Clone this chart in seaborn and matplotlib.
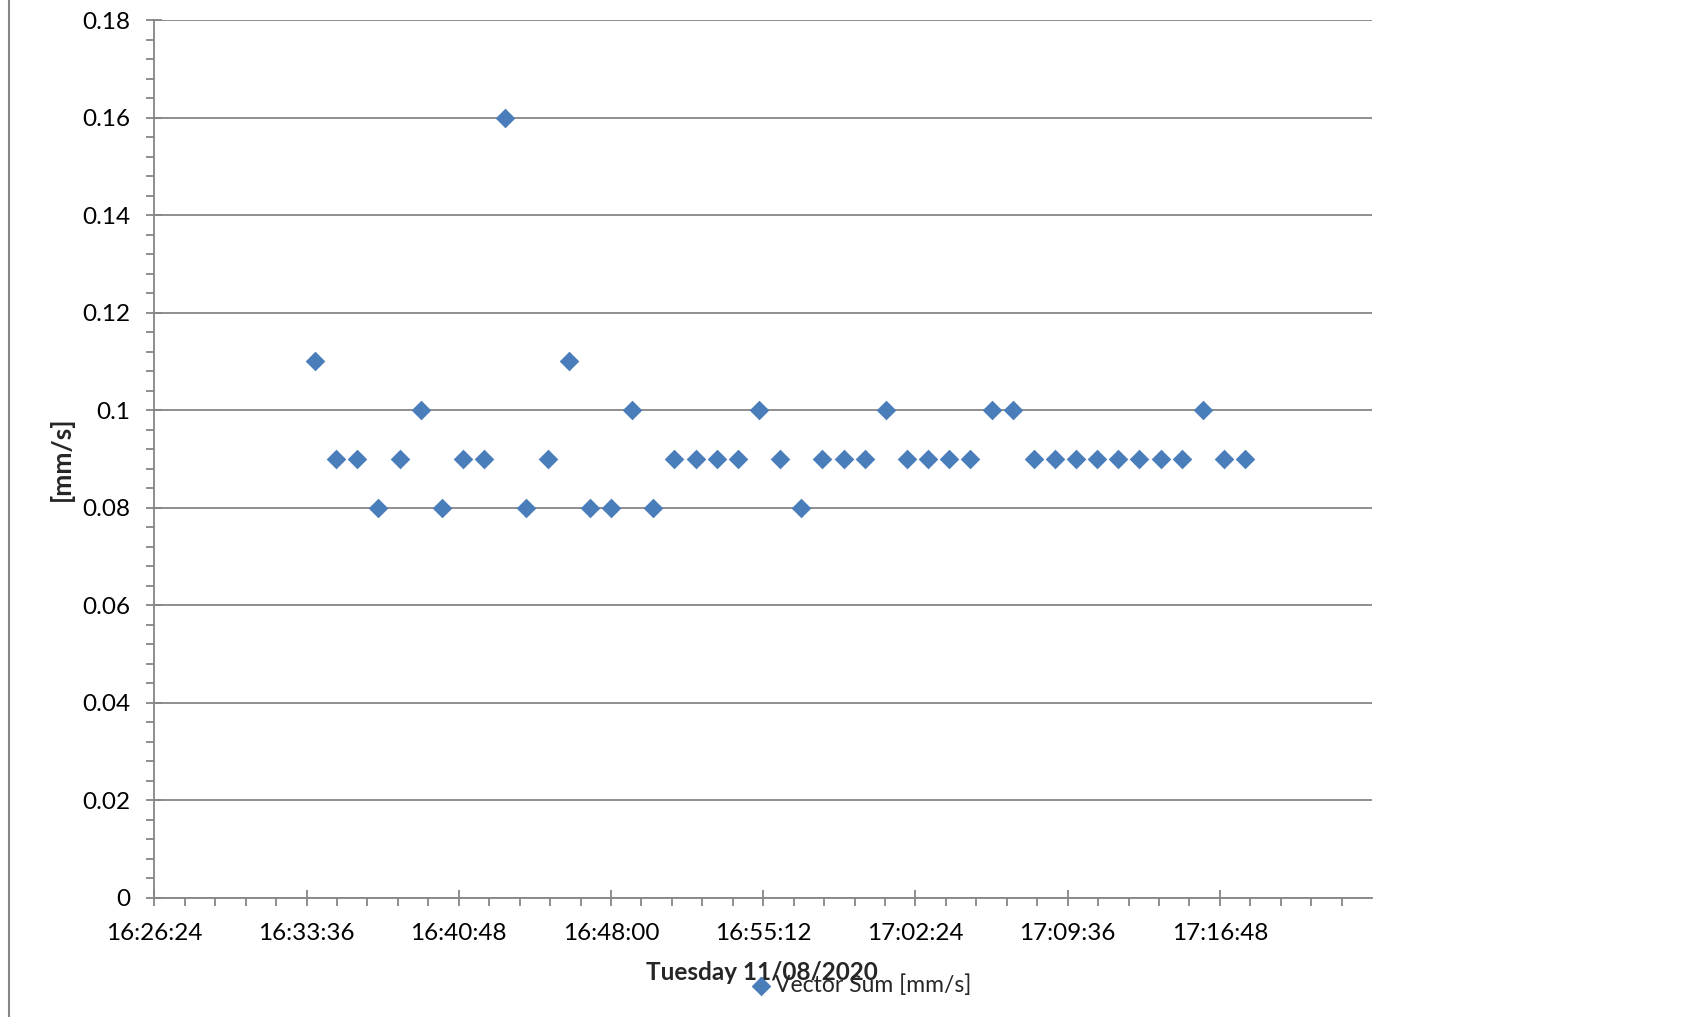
import numpy as np
import pandas as pd
import matplotlib
matplotlib.use("Agg")
import matplotlib.pyplot as plt
import matplotlib.ticker as mticker
import seaborn as sns

sns.set_style("white")
plt.rcParams["font.family"] = ["Lato", "DejaVu Sans"]

# --- Data: one reading per minute, Tuesday 11/08/2020 ---
times = ["16:34:00", "16:35:00", "16:36:00", "16:37:00", "16:38:00", "16:39:00",
         "16:40:00", "16:41:00", "16:42:00", "16:43:00", "16:44:00", "16:45:00",
         "16:46:00", "16:47:00", "16:48:00", "16:49:00", "16:50:00", "16:51:00",
         "16:52:00", "16:53:00", "16:54:00", "16:55:00", "16:56:00", "16:57:00",
         "16:58:00", "16:59:00", "17:00:00", "17:01:00", "17:02:00", "17:03:00",
         "17:04:00", "17:05:00", "17:06:00", "17:07:00", "17:08:00", "17:09:00",
         "17:10:00", "17:11:00", "17:12:00", "17:13:00", "17:14:00", "17:15:00",
         "17:16:00", "17:17:00", "17:18:00"]
vector_sum = [0.11, 0.09, 0.09, 0.08, 0.09, 0.10, 0.08, 0.09, 0.09, 0.16,
              0.08, 0.09, 0.11, 0.08, 0.08, 0.10, 0.08, 0.09, 0.09, 0.09,
              0.09, 0.10, 0.09, 0.08, 0.09, 0.09, 0.09, 0.10, 0.09, 0.09,
              0.09, 0.09, 0.10, 0.10, 0.09, 0.09, 0.09, 0.09, 0.09, 0.09,
              0.09, 0.09, 0.10, 0.09, 0.09]

# time of day as fraction of a day (Excel style)
df = pd.DataFrame({
    "Time": pd.to_timedelta(times).total_seconds() / 86400.0,
    "Vector Sum [mm/s]": vector_sum,
})

grid_col = "#868686"
marker_col = "#4A7EBB"

fig = plt.figure(figsize=(16.87, 10.17), dpi=100)
ax = fig.add_axes([0.0915, 0.1173, 0.7218, 0.863])

sns.scatterplot(data=df, x="Time", y="Vector Sum [mm/s]", ax=ax, marker="D",
                s=100, color=marker_col, linewidth=0, label="Vector Sum [mm/s]",
                legend=False, zorder=3)

ax.set_xlim(0.685, 0.725)
ax.set_ylim(0, 0.18)


def fmt_time(v, pos):
    sec = int(round(v * 86400))
    return f"{sec // 3600:02d}:{(sec % 3600) // 60:02d}:{sec % 60:02d}"


# Excel leaves the axis end (17:24:00) without tick or label
ax.xaxis.set_major_locator(mticker.FixedLocator(np.arange(0.685, 0.7215, 0.005)))
ax.xaxis.set_minor_locator(mticker.FixedLocator(np.arange(0.685, 0.7245, 0.001)))
ax.xaxis.set_major_formatter(mticker.FuncFormatter(fmt_time))
ax.yaxis.set_major_locator(mticker.MultipleLocator(0.02))
ax.yaxis.set_minor_locator(mticker.MultipleLocator(0.004))
ax.yaxis.set_major_formatter(mticker.FuncFormatter(lambda v, p: f"{v:.2f}".rstrip("0").rstrip(".") if v else "0"))

ax.grid(axis="y", which="major", color=grid_col, linewidth=1.3)
ax.grid(axis="x", visible=False)
for side in ["top", "right"]:
    ax.spines[side].set_visible(False)
for side in ["left", "bottom"]:
    ax.spines[side].set_color(grid_col)
    ax.spines[side].set_linewidth(1.3)

ax.tick_params(which="major", direction="inout", length=12, width=1.3,
               color=grid_col, labelsize=17.5, labelcolor="black")
ax.tick_params(which="minor", direction="out", length=6, width=1.3, color=grid_col)
ax.tick_params(axis="y", which="major", pad=11)
ax.tick_params(axis="x", which="major", pad=12)
ax.tick_params(axis="both", which="both", left=True, bottom=True)

ax.set_xlabel("")
ax.set_ylabel("[mm/s]", fontsize=19, fontweight="bold", labelpad=6)
fig.text(762 / 1687, 1 - 972 / 1017, "Tuesday 11/08/2020", ha="center",
         va="center", fontsize=17.5, fontweight="bold")

fig.legend(loc="center left", bbox_to_anchor=(752 / 1687, 1 - 985 / 1017),
           frameon=False, fontsize=16.5, borderpad=0, borderaxespad=0,
           handlelength=0.8, handletextpad=0.2, markerscale=1.0)

# chart-area border on the left
fig.add_artist(plt.Line2D([9 / 1687, 9 / 1687], [0, 1], color=grid_col,
                          linewidth=1.5, transform=fig.transFigure))

fig.savefig("out.png", dpi=100)
